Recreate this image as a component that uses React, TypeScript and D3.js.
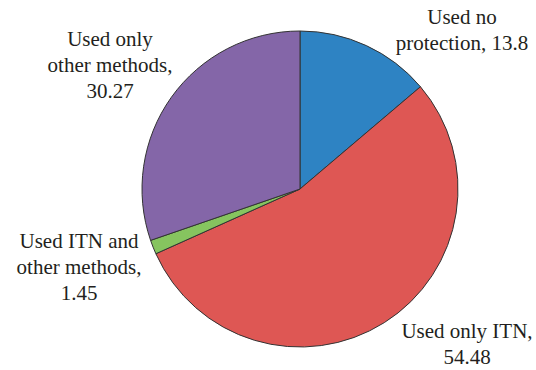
import React from "react";
import * as d3 from "d3";

const categories = [
  "Used no protection",
  "Used only ITN",
  "Used ITN and other methods",
  "Used only other methods",
];
const values = [13.8, 54.48, 1.45, 30.27];
const colors = ["#2E83C3", "#DE5754", "#86C45F", "#8466A8"];
const labelLines = [
  ["Used no", "protection, 13.8"],
  ["Used only ITN,", "54.48"],
  ["Used ITN and", "other methods,", "1.45"],
  ["Used only", "other methods,", "30.27"],
];
const labelPos: [number, number][] = [
  [462, 24],
  [467, 338],
  [79, 248],
  [110, 46],
];

const W = 536;
const H = 370;
const cx = 300;
const cy = 189;
const R = 158;

export default function App() {
  const pie = d3.pie<number>().sort(null).value((d) => d);
  const arcs = pie(values);
  const arc = d3.arc<d3.PieArcDatum<number>>().innerRadius(0).outerRadius(R);
  return (
    <svg
      width={W}
      height={H}
      style={{ position: "absolute", left: 0, top: 0, background: "#fff" }}
    >
      <g transform={`translate(${cx},${cy})`}>
        {arcs.map((a, i) => (
          <path
            key={categories[i]}
            d={arc(a) || ""}
            fill={colors[i]}
            stroke="#333"
            strokeWidth={1}
            strokeLinejoin="round"
          />
        ))}
      </g>
      {labelLines.map((lines, i) => (
        <text
          key={i}
          textAnchor="middle"
          fontFamily="'Liberation Serif', serif"
          fontSize={21}
          fill="#231f20"
        >
          {lines.map((t, j) => (
            <tspan key={j} x={labelPos[i][0]} y={labelPos[i][1] + j * 25.8}>
              {t}
            </tspan>
          ))}
        </text>
      ))}
    </svg>
  );
}
